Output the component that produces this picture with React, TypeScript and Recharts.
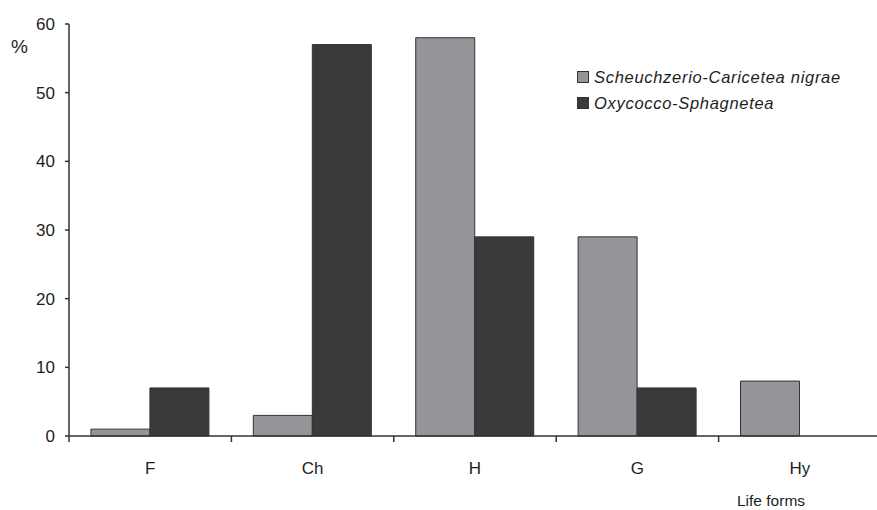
import React from 'react';
import { BarChart, Bar, XAxis, YAxis } from 'recharts';

const lifeForms = ['F', 'Ch', 'H', 'G', 'Hy'];
const scheuchzerio = [1, 3, 58, 29, 8];
const oxycocco = [7, 57, 29, 7, 0];
const yTicks = [0, 10, 20, 30, 40, 50, 60];

const series = [
  { key: 'scheuchzerio', name: 'Scheuchzerio-Caricetea nigrae', color: '#949598' },
  { key: 'oxycocco', name: 'Oxycocco-Sphagnetea', color: '#3a3a3a' },
];

const data = lifeForms.map((name, i) => ({
  name,
  scheuchzerio: scheuchzerio[i],
  oxycocco: oxycocco[i],
}));

const FONT = 'Arial, "Liberation Sans", sans-serif';
const TEXT = '#1e1e1e';

// category label in the middle, tick mark on the band boundary
function CategoryTick(props: any) {
  const { x, y, payload } = props;
  const half = payload?.offset ?? 0;
  return (
    <g>
      <line x1={x - half} y1={y} x2={x - half} y2={y + 6} stroke="#333" strokeWidth={1.5} />
      <text x={x} y={y + 38} textAnchor="middle" fontFamily={FONT} fontSize={17} fill={TEXT}>
        {payload.value}
      </text>
    </g>
  );
}

export default function App() {
  return (
    <div style={{ position: 'absolute', left: 0, top: 0, width: 877, height: 510, overflow: 'hidden', background: '#fff' }}>
      <BarChart width={881} height={510} data={data} margin={{ top: 24, right: 0, bottom: 0, left: 0 }}
        barCategoryGap="13.5%" barGap={0}>
        <XAxis dataKey="name" height={74} tickSize={0} tickMargin={0} tickLine={false}
          axisLine={{ stroke: '#333', strokeWidth: 1.5 }} tick={<CategoryTick />} interval={0} />
        <YAxis domain={[0, 60]} ticks={yTicks} width={69} tickSize={4} tickMargin={10}
          axisLine={{ stroke: '#333', strokeWidth: 1.5 }} tickLine={{ stroke: '#333', strokeWidth: 1.5 }}
          tick={{ fill: TEXT, fontSize: 17, fontFamily: FONT }} />
        {series.map((s) => (
          <Bar key={s.key} dataKey={s.key} name={s.name} fill={s.color} stroke="#333" strokeWidth={1}
            isAnimationActive={false} />
        ))}
      </BarChart>
      <div style={{ position: 'absolute', left: 11, top: 36, fontFamily: FONT, fontSize: 19, color: TEXT }}>%</div>
      <div style={{ position: 'absolute', left: 577, top: 64, fontFamily: FONT, fontStyle: 'italic', fontSize: 16.5,
        color: TEXT, letterSpacing: 0.7 }}>
        {series.map((s) => (
          <div key={s.key} style={{ display: 'flex', alignItems: 'center', height: 26 }}>
            <span style={{ width: 10, height: 10, background: s.color, border: '1px solid #333', marginRight: 5 }} />
            {s.name}
          </div>
        ))}
      </div>
      <div style={{ position: 'absolute', left: 737, top: 492, fontFamily: FONT, fontSize: 15.5, color: TEXT }}>
        Life forms
      </div>
    </div>
  );
}
